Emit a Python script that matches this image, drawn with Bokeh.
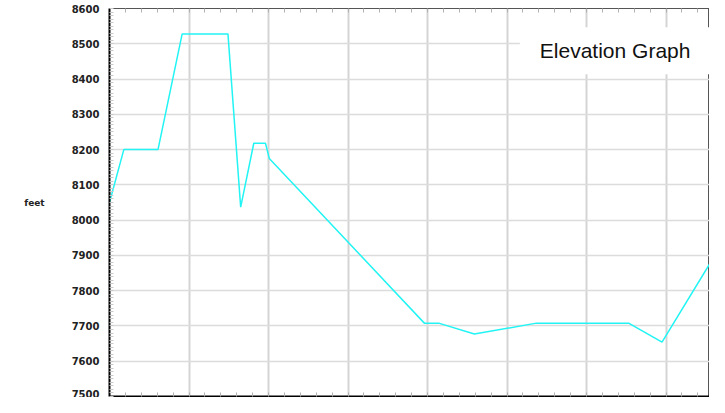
from bokeh.plotting import figure
from bokeh.models import (SingleIntervalTicker, LinearAxis, Label, Range1d, Grid,
                          CustomJSTickFormatter)
from bokeh.embed import file_html
from bokeh.resources import INLINE

# distance (grid units) and elevation (feet)
distance = [0.0, 0.18, 0.61, 0.914, 1.49, 1.65, 1.815, 1.962, 2.01, 3.96, 4.14,
            4.59, 5.37, 6.53, 6.95, 7.56, 7.74]
elevation = [8050, 8200, 8200, 8528, 8528, 8037, 8218, 8218, 8175, 7708, 7708,
             7677, 7708, 7708, 7654, 7880, 7745]
y_ticks_interval = 100
title_text = "Elevation Graph"
y_label = "feet"

W, H = 709, 397
LEFT = 109
p = figure(width=W, height=H, output_backend="svg", toolbar_location=None,
           x_range=Range1d(0, (W - LEFT) / 79.5), y_range=Range1d(7500, 8600),
           min_border_left=LEFT, min_border_right=0, min_border_top=8,
           min_border_bottom=1, x_axis_location=None, y_axis_location=None)
p.background_fill_color = "white"
p.border_fill_color = "white"
p.outline_line_color = "#555555"
p.outline_line_width = 1

# axes
yax = LinearAxis(ticker=SingleIntervalTicker(interval=y_ticks_interval, num_minor_ticks=10))
yax.axis_line_color = "black"
yax.axis_line_width = 2
yax.major_tick_out = 0
yax.major_tick_in = 0
yax.minor_tick_out = 0
yax.minor_tick_in = 4
yax.minor_tick_line_color = "#c8c8c8"
yax.major_label_text_font = "DejaVu Sans"
yax.major_label_text_font_style = "bold"
yax.major_label_text_font_size = "10px"
yax.major_label_text_color = "#222222"
yax.major_label_standoff = 10
yax.axis_label = y_label
yax.axis_label_orientation = "horizontal"
yax.axis_label_text_font = "DejaVu Sans"
yax.axis_label_text_font_style = "bold"
yax.axis_label_text_font_size = "9px"
yax.axis_label_text_color = "#222222"
yax.axis_label_standoff = 24
p.add_layout(yax, "left")

blank = CustomJSTickFormatter(code="return ''")
for loc, col in (("below", "black"), ("above", "#555555")):
    ax = LinearAxis(ticker=SingleIntervalTicker(interval=1, num_minor_ticks=5),
                    formatter=blank)
    ax.axis_line_color = col
    ax.axis_line_width = 2 if loc == "below" else 1
    ax.major_tick_out = 0
    ax.major_tick_in = 0
    ax.minor_tick_out = 0
    ax.minor_tick_in = 4
    ax.minor_tick_line_color = "#b0b0b0"
    ax.major_label_text_font_size = "1px"
    ax.major_label_standoff = 0
    p.add_layout(ax, loc)

# grids
p.add_layout(Grid(dimension=0, ticker=SingleIntervalTicker(interval=1),
                  grid_line_color="#d4d4d4", grid_line_width=2))
p.add_layout(Grid(dimension=1, ticker=SingleIntervalTicker(interval=y_ticks_interval),
                  grid_line_color="#dcdcdc", grid_line_width=1.5))

p.line(distance, elevation, line_color="#22f4f4", line_width=1.5)

lab = Label(x=6.36, y=8480, text=title_text, text_align="center",
            text_baseline="middle", text_font="Liberation Sans",
            text_font_size="21px", text_color="#111111",
            background_fill_color="white", background_fill_alpha=1.0,
            padding=dict(left=20, right=20, top=12, bottom=12))
p.add_layout(lab)

open("out.html", "w").write(file_html(p, INLINE))
